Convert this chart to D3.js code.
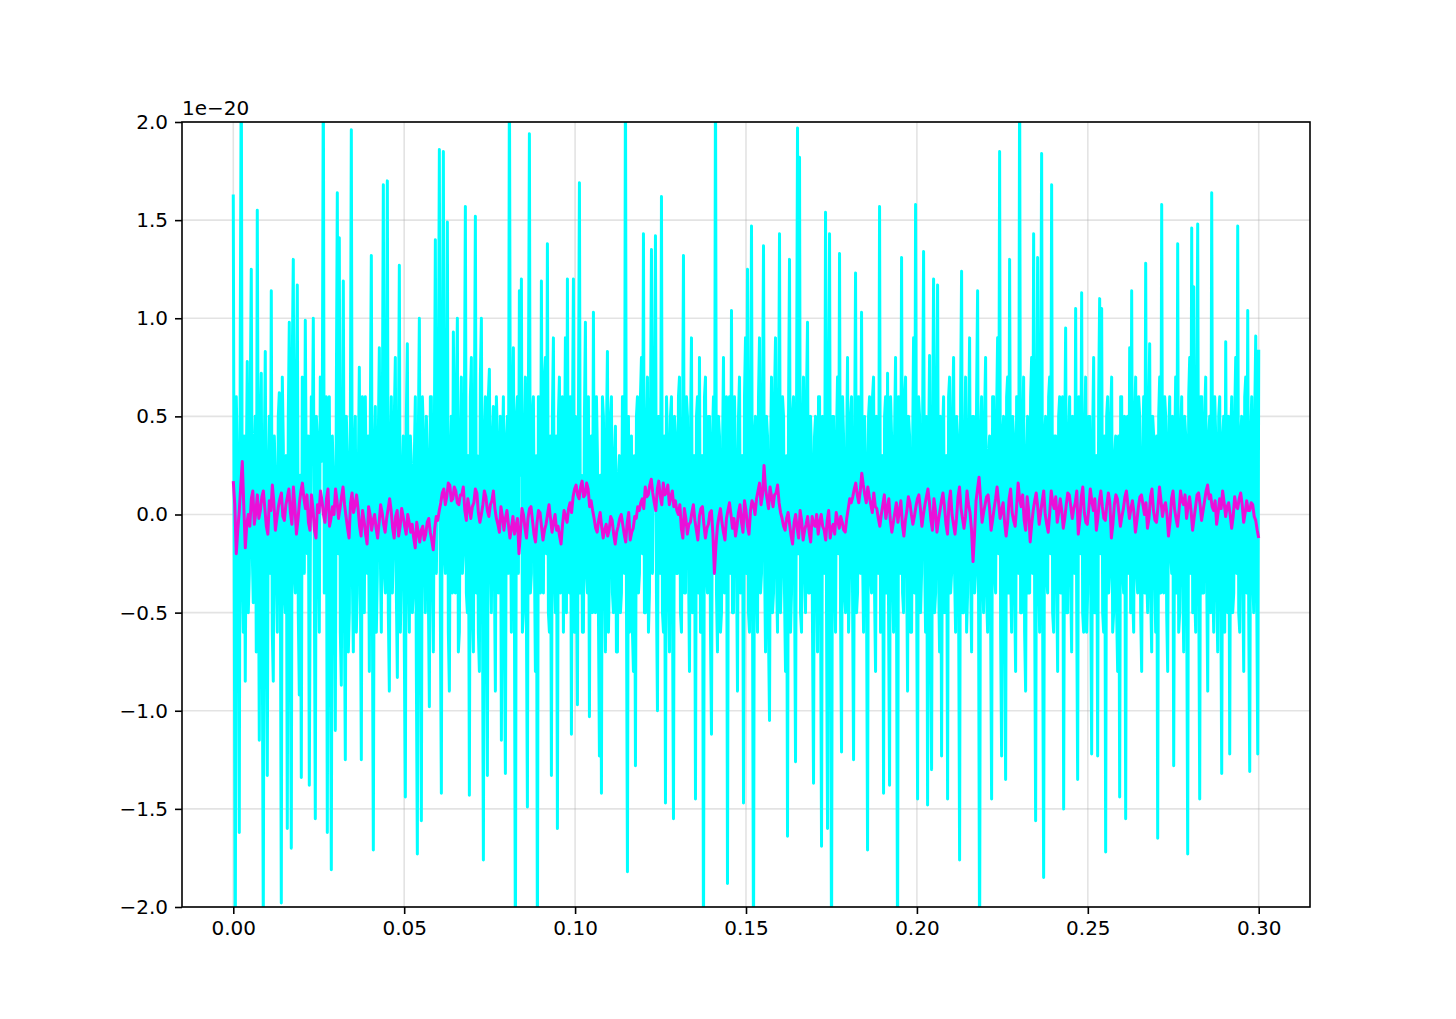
<!DOCTYPE html>
<html>
<head>
<meta charset="utf-8">
<script src="https://cdn.jsdelivr.net/npm/d3@7"></script>
<style>
  html, body { margin: 0; padding: 0; background: #ffffff; }
  svg { display: block; }
</style>
</head>
<body>
<script>
// ---- data (values in units of 1e-20) ----
const tStart = 0.0;
const tEnd = 0.30;
const xTicks = [0.00, 0.05, 0.10, 0.15, 0.20, 0.25, 0.30];
const yTicks = [-2.0, -1.5, -1.0, -0.5, 0.0, 0.5, 1.0, 1.5, 2.0];
const offsetLabel = "1e\u221220";

const cyanValues = [
 1.63,-0.4,-2.3,0.6,0.3,-0.2,-1.62,0.9,2.4,-0.3,-0.6,0.4,-0.85,0.2,0.78,-0.5,-0.3,0.6,1.25,-0.2,-0.45,0.3,0.5,-0.7,1.55,0.1,-1.15,0.4,0.72,-0.6,-2.1,0.3,0.83,-0.4,-1.33,0.2,0.5,-0.3,1.14,-0.6,
 -0.85,0.4,0.2,-0.3,-0.6,0.5,0.62,-0.2,-1.98,0.7,0.35,-0.4,-0.5,0.3,-1.6,0.5,0.98,-0.6,-1.7,0.8,1.30,-0.3,-0.4,0.6,1.17,-0.5,-0.92,0.2,-1.34,0.7,0.5,-0.3,0.99,0.1,-0.2,0.4,-1.38,-0.2,0.6,0.3,
 1.0,-0.3,-1.55,0.5,0.4,-0.2,-0.6,0.7,0.27,0.5,2.3,-0.4,-0.3,0.6,-1.62,0.3,0.6,-0.5,-1.81,0.4,0.2,-0.3,-1.10,0.6,1.64,-0.2,1.41,-0.6,-0.87,0.3,1.19,-0.4,-1.25,0.5,0.3,-0.7,-0.5,0.4,1.96,-0.3,
 -0.7,0.3,0.5,-0.6,-0.4,0.2,0.75,-0.3,-1.25,0.6,0.2,-0.5,0.6,0.1,-0.3,0.4,-0.8,0.5,1.32,-0.4,-1.71,0.3,0.55,-0.6,-0.3,0.4,0.85,-0.2,-0.6,0.5,1.68,-0.3,-0.4,0.6,1.70,-0.5,-0.9,0.3,0.6,-0.4,
 -0.2,0.5,0.8,-0.4,-0.83,0.3,1.27,-0.6,-0.3,0.2,0.4,-0.7,-1.44,0.5,0.87,-0.3,-0.6,0.4,0.25,-0.5,-0.4,0.3,0.6,-0.8,-1.73,0.4,1.0,-0.5,-1.56,0.6,0.42,-0.2,-0.5,0.5,0.3,-0.4,-0.98,0.6,0.6,-0.3,
 -0.7,0.4,1.40,-0.3,0.2,0.6,1.86,-0.5,-1.42,0.7,1.85,-0.2,-0.3,0.5,1.49,-0.6,-0.90,0.3,0.5,-0.4,0.93,0.2,-0.4,0.6,1.0,-0.7,-0.6,0.4,0.7,-0.3,-0.2,0.5,1.57,-0.4,-0.5,0.3,-1.43,0.6,0.8,-0.5,
 -0.7,0.5,1.52,-0.4,0.3,-0.6,-0.8,0.7,1.0,-0.3,-1.76,0.4,0.6,-0.5,-1.33,0.6,0.74,-0.2,-0.5,0.4,0.55,-0.3,-0.9,0.6,0.4,-0.4,-0.3,0.5,-1.15,0.3,0.6,-0.6,-1.32,0.4,0.5,-0.3,2.3,0.2,-0.6,0.5,
 0.85,-0.4,-2.3,0.5,0.6,-0.3,1.14,0.2,1.20,-0.6,-0.5,0.4,0.7,-0.5,-1.49,0.6,1.94,-0.4,-0.3,0.5,0.6,-0.2,-0.8,0.3,-2.3,0.6,0.5,-0.4,1.19,-0.3,-0.4,0.7,0.8,-0.2,1.38,-0.5,-0.6,0.4,-1.33,0.5,
 0.9,-0.3,-0.5,0.4,-1.60,0.5,0.7,-0.4,0.3,0.6,-0.6,0.2,0.9,-0.5,1.20,-0.3,-0.4,0.6,-1.12,0.4,1.20,-0.6,0.5,-0.2,-0.97,0.5,1.69,-0.4,0.2,-0.6,-0.6,0.5,0.98,-0.3,-0.4,0.6,-1.03,0.3,0.4,-0.5,
 1.03,-0.4,-0.5,0.6,0.3,-0.5,-1.23,0.2,-1.42,0.6,0.5,-0.3,-0.7,0.4,0.83,-0.6,-0.3,0.5,0.6,-0.4,-0.5,0.3,0.45,-0.7,-0.7,0.2,0.3,-0.5,-0.4,0.6,0.6,-0.3,2.3,-0.4,-1.82,0.5,-0.6,0.3,0.4,-0.6,
 -0.8,0.3,-1.28,0.5,0.6,-0.4,-0.3,0.6,0.8,-0.2,1.43,-0.5,-0.5,0.4,0.7,-0.6,-0.4,0.5,1.35,-0.3,0.3,0.6,1.42,-0.4,-1.0,0.5,0.5,-0.3,1.62,-0.5,-0.6,0.4,-1.47,0.6,0.4,-0.3,-0.7,0.5,0.6,-0.4,
 -1.55,0.5,0.4,-0.3,-0.3,0.6,0.7,-0.5,-0.6,0.3,1.32,-0.4,-0.4,0.6,0.5,-0.2,-0.8,0.4,0.9,-0.5,-0.3,0.3,-1.45,0.5,0.6,-0.4,0.80,-0.6,-0.5,0.3,-2.3,0.6,0.7,-0.3,-0.4,0.5,0.5,-0.6,-1.12,0.4,
 0.6,-0.3,2.3,-0.4,-0.7,0.5,0.4,-0.6,-0.5,0.3,0.8,-0.4,-0.3,0.6,-1.88,0.4,0.6,-0.3,1.04,-0.5,-0.5,0.6,0.3,-0.2,-0.9,0.5,0.7,-0.4,-0.3,0.3,-1.47,0.6,0.9,-0.3,1.25,-0.5,-0.6,0.4,1.47,-0.4,
 -2.3,0.4,0.5,-0.3,-0.6,0.6,0.9,-0.4,-0.3,0.5,1.37,-0.2,-0.7,0.5,0.4,-0.6,-1.05,0.3,0.7,-0.5,-0.4,0.6,0.9,-0.3,-0.6,0.4,1.43,-0.5,-0.3,0.6,0.5,-0.4,-0.8,0.3,-1.64,0.5,1.30,-0.6,-0.4,0.5,
 0.6,-0.3,-1.26,0.5,1.97,-0.2,1.82,-0.5,-0.6,0.4,0.7,-0.3,-0.5,0.6,0.98,-0.4,-0.4,0.5,0.3,-0.6,-1.37,0.4,0.5,-0.3,-0.7,0.6,0.6,-0.4,-1.69,0.5,0.4,-0.3,1.54,-0.5,-1.60,0.6,1.43,-0.4,-2.3,0.5,
 0.5,-0.3,-0.6,0.4,0.7,-0.2,1.33,-0.5,-1.21,0.6,0.4,-0.4,-0.5,0.3,0.8,-0.6,-0.3,0.5,0.6,-0.4,-1.25,0.3,1.23,-0.5,-0.4,0.6,0.5,-0.3,1.03,-0.2,-0.6,0.5,0.3,-0.4,-1.71,0.5,0.6,-0.3,-0.4,0.6,
 0.7,-0.4,-0.8,0.5,0.4,-0.3,1.57,-0.6,-0.5,0.3,-1.42,0.5,0.6,-0.4,0.72,-0.5,-1.38,0.6,0.4,-0.3,-0.6,0.4,0.8,-0.5,-2.3,0.6,0.5,-0.3,1.31,-0.4,-0.5,0.6,0.7,-0.2,-0.9,0.5,0.4,-0.6,-0.6,0.3,
 0.9,-0.4,1.58,-0.3,-1.45,0.6,0.5,-0.5,-0.3,0.4,1.34,-0.2,-0.6,0.5,-1.48,0.3,0.81,-0.6,-1.30,0.4,1.20,-0.5,-0.4,0.6,1.17,-0.3,-0.7,0.5,-1.23,0.4,0.6,-0.5,-0.4,0.3,-1.45,0.6,0.7,-0.4,-0.3,0.5,
 0.8,-0.3,-0.6,0.5,0.4,-0.4,-1.76,0.6,1.24,-0.5,-0.5,0.3,0.7,-0.6,-0.4,0.4,0.9,-0.3,-0.7,0.5,0.5,-0.4,-0.3,0.6,1.14,-0.5,-2.3,0.4,0.6,-0.3,-0.5,0.5,0.8,-0.4,-0.6,0.3,0.4,-0.5,-1.45,0.6,
 0.6,-0.3,-0.4,0.5,0.9,-0.2,1.85,-0.6,-1.23,0.4,0.5,-0.5,-1.35,0.6,0.7,-0.4,1.30,-0.3,-0.6,0.5,0.4,-0.4,-0.8,0.6,0.6,-0.3,2.3,-0.5,-0.5,0.4,0.7,-0.6,-0.9,0.3,0.5,-0.4,-0.4,0.6,0.8,-0.3,
 1.43,-0.4,-1.56,0.5,1.31,-0.3,-0.6,0.6,1.84,-0.5,-1.85,0.4,0.5,-0.3,-0.4,0.6,0.7,-0.2,1.68,-0.5,-0.6,0.4,0.4,-0.3,-0.8,0.5,0.6,-0.4,-0.3,0.6,-1.50,0.3,0.95,-0.5,-0.5,0.4,0.6,-0.3,-0.7,0.5,
 0.4,-0.3,1.05,-0.4,-1.35,0.6,0.5,-0.2,1.13,-0.5,-0.6,0.4,0.7,-0.6,-0.4,0.5,0.5,-0.3,-1.22,0.4,0.8,-0.5,-0.5,0.3,-1.23,0.6,1.10,-0.2,1.05,-0.5,-0.6,0.4,-1.72,0.5,0.6,-0.4,-0.3,0.5,0.7,-0.6,
 -0.5,0.3,0.4,-0.5,-0.8,0.4,-1.44,0.6,0.6,-0.3,-0.4,0.5,-1.55,0.4,0.5,-0.3,0.85,-0.5,1.14,-0.4,-0.6,0.5,0.7,-0.3,-0.4,0.6,0.5,-0.5,-0.8,0.3,0.6,-0.4,1.28,-0.3,-0.5,0.5,0.87,-0.4,-0.7,0.5,
 0.4,-0.3,-0.6,0.4,-1.65,0.5,0.7,-0.4,1.58,-0.3,-0.4,0.6,0.5,-0.5,-0.8,0.4,0.6,-0.2,-0.3,0.5,-1.28,0.3,0.7,-0.4,1.38,-0.6,-0.5,0.4,0.6,-0.3,-0.7,0.5,0.4,-0.4,-1.73,0.6,0.8,-0.3,1.46,-0.5,
 1.16,-0.4,-0.6,0.5,1.48,-0.3,-1.45,0.6,0.6,-0.4,-0.4,0.5,0.7,-0.3,-0.9,0.4,0.5,-0.5,1.64,-0.3,-0.6,0.6,0.4,-0.4,-0.7,0.5,0.6,-0.3,-1.32,0.4,0.5,-0.6,0.88,-0.3,-0.5,0.5,-1.22,0.4,0.6,-0.5,
 -0.4,0.5,0.8,-0.3,1.47,-0.5,-0.6,0.4,0.5,-0.3,-0.8,0.6,0.7,-0.4,1.04,-0.5,-1.31,0.4,0.6,-0.3,-0.5,0.5,0.91,-0.4,-1.22,0.84
];

const magentaValues = [
 0.17,0.05,-0.20,-0.08,0.02,0.15,0.27,0.04,-0.17,-0.05,
 0.00,-0.06,0.08,0.12,-0.05,0.01,0.10,-0.02,0.02,0.09,0.12,0.03,-0.06,-0.10,0.07,0.02,0.15,0.06,-0.08,-0.02,0.04,0.08,0.11,-0.01,-0.03,0.05,0.09,0.13,0.01,-0.05,0.14,0.04,-0.10,-0.03,0.06,0.12,0.16,0.08,0.03,0.10,-0.04,-0.08,0.10,0.03,-0.08,-0.12,0.05,0.01,0.12,0.07,0.00,-0.04,0.08,0.13,-0.06,-0.02,0.04,0.00,0.13,0.07,-0.02,0.03,0.09,0.14,0.05,-0.01,-0.07,-0.12,0.06,0.11,0.01,0.05,0.10,0.03,
 -0.06,-0.11,0.02,-0.03,-0.10,-0.15,0.04,0.00,-0.08,-0.03,0.00,-0.07,-0.12,-0.04,0.05,0.01,-0.05,-0.09,-0.02,0.03,0.08,0.02,-0.07,-0.12,-0.01,0.02,-0.11,-0.06,0.03,-0.01,-0.06,-0.10,0.00,-0.04,-0.09,-0.05,
 -0.12,-0.17,-0.04,-0.09,-0.14,-0.08,-0.06,-0.13,-0.10,-0.04,-0.02,-0.09,-0.13,-0.18,-0.07,-0.01,-0.03,0.02,
 0.06,0.11,0.13,0.05,0.09,0.16,0.15,0.07,0.08,0.14,0.12,0.06,0.05,0.10,
 0.10,0.14,0.02,-0.03,0.08,0.03,-0.02,0.04,0.06,0.13,0.11,0.01,-0.04,0.00,0.05,0.12,0.09,0.02,-0.01,0.05,0.07,0.12,0.03,-0.02,-0.05,-0.09,0.04,-0.01,
 -0.08,-0.02,0.02,-0.05,-0.12,-0.07,-0.01,-0.10,-0.06,-0.02,-0.20,-0.09,0.03,0.00,-0.07,-0.12,-0.02,0.03,0.04,-0.03,-0.10,-0.14,-0.04,0.02,0.01,-0.06,-0.13,-0.08,-0.05,0.00,0.05,-0.02,-0.09,-0.04,0.00,-0.08,-0.06,-0.11,-0.15,-0.05,0.02,-0.01,-0.04,0.03,0.06,0.01,0.09,0.13,
 0.15,0.10,0.08,0.14,0.17,0.09,0.10,0.16,0.13,0.04,0.07,0.02,
 -0.02,-0.07,-0.09,-0.03,0.01,-0.06,-0.12,-0.08,-0.05,-0.11,-0.08,-0.01,-0.03,-0.10,-0.15,-0.09,-0.06,-0.02,0.00,-0.05,-0.10,-0.14,-0.04,0.01,-0.13,-0.09,-0.07,-0.01,-0.02,0.04,0.02,0.06,
 0.08,0.03,0.14,0.09,0.10,0.15,0.18,0.11,0.06,0.02,0.13,0.17,0.09,0.05,0.16,0.10,0.11,0.15,0.05,0.09,0.12,0.04,0.07,0.02,
 0.00,0.05,-0.07,-0.12,0.03,-0.02,-0.10,-0.05,-0.04,0.01,0.05,-0.03,-0.08,-0.13,-0.01,0.03,0.04,-0.05,-0.12,-0.07,-0.05,0.01,0.02,-0.10,-0.30,-0.16,-0.06,-0.01,0.03,-0.04,-0.09,-0.13,-0.02,0.02,0.06,0.00,-0.07,-0.02,-0.11,-0.06,0.01,0.05,-0.04,-0.09,0.07,0.02,-0.06,-0.10,0.02,0.07,0.05,0.00,0.08,
 0.12,0.16,0.05,0.10,0.25,0.13,0.08,0.03,0.14,0.09,0.04,0.10,0.11,0.15,0.06,0.01,
 -0.02,-0.06,-0.08,-0.02,0.01,-0.05,-0.11,-0.15,-0.04,0.00,-0.07,-0.12,0.02,-0.03,-0.13,-0.08,-0.05,-0.01,-0.09,-0.14,-0.01,-0.05,-0.06,0.00,-0.10,-0.04,0.00,-0.06,-0.08,-0.13,-0.03,0.02,-0.12,-0.07,-0.05,-0.10,0.01,-0.03,-0.07,-0.01,-0.04,-0.08,-0.09,-0.02,0.03,0.08,0.06,
 0.09,0.13,0.16,0.10,0.06,0.12,0.21,0.15,0.10,0.06,0.14,0.09,0.05,0.01,0.11,0.04,
 0.03,-0.02,-0.06,0.00,0.05,0.10,-0.02,0.03,0.08,-0.03,-0.09,-0.04,0.01,0.06,-0.04,0.02,0.07,-0.05,-0.11,-0.03,0.02,0.09,0.06,0.00,-0.05,-0.01,0.04,0.08,
 0.10,0.03,-0.06,0.00,0.05,0.09,0.13,0.06,-0.03,-0.08,0.08,0.02,-0.09,-0.03,0.02,0.07,0.11,0.04,-0.05,-0.10,
 0.06,0.12,0.00,-0.05,-0.10,-0.02,0.09,0.14,0.03,-0.02,-0.07,-0.01,0.12,0.05,0.01,-0.08,-0.24,-0.10,0.07,0.13,
 0.19,0.08,-0.04,0.01,0.05,0.09,0.10,0.03,-0.08,-0.03,0.03,0.08,0.14,0.06,-0.02,0.02,0.06,-0.04,-0.11,-0.04,
 0.08,0.13,0.01,-0.03,-0.06,0.04,0.16,0.08,0.04,0.10,-0.03,-0.08,0.09,0.02,-0.14,-0.05,0.02,0.07,0.11,0.04,
 -0.05,0.01,0.07,0.12,0.00,-0.05,-0.09,0.01,0.12,0.06,0.03,0.09,-0.04,0.01,0.08,0.02,-0.07,-0.02,0.05,0.11,
 0.10,0.04,-0.02,0.03,0.06,0.12,-0.10,-0.03,0.09,0.14,0.01,-0.04,-0.05,0.03,0.13,0.07,0.02,0.08,-0.08,-0.02,
 0.07,0.12,0.04,-0.02,-0.03,0.05,0.11,0.06,-0.12,-0.05,0.05,0.10,0.08,0.01,-0.06,-0.01,0.03,0.09,0.12,0.05,
 -0.02,0.03,0.07,0.01,-0.09,-0.03,0.04,0.09,0.10,0.05,0.00,0.06,-0.07,-0.02,0.09,0.13,0.02,-0.03,-0.04,0.04,
 0.14,0.07,-0.01,0.04,0.06,0.00,-0.11,-0.04,0.08,0.12,0.03,-0.02,-0.06,0.02,0.12,0.07,0.05,0.10,-0.02,0.04,
 0.09,0.02,-0.08,-0.02,0.04,0.10,0.11,0.05,-0.03,0.02,0.07,0.12,0.15,0.08,0.10,0.04,0.02,0.07,-0.05,0.01,
 0.08,0.03,0.12,0.06,-0.01,0.04,0.06,0.00,-0.07,-0.01,0.09,0.04,0.03,0.08,0.11,0.05,-0.04,0.01,0.07,0.02,
 0.02,0.06,0.05,-0.01,-0.03,-0.08,-0.12
];

// ---- layout ----
const W = 1456, H = 1019;
const margin = { left: 182, right: 1456 - 1310, top: 122, bottom: 1019 - 907 };
const pw = W - margin.left - margin.right;
const ph = H - margin.top - margin.bottom;
const FONT = "'DejaVu Sans', sans-serif";
const FS = 20;

const svg = d3.select("body").append("svg")
  .attr("width", W).attr("height", H)
  .style("background", "#ffffff");

const pad = (tEnd - tStart) * 0.05;
const x = d3.scaleLinear().domain([tStart - pad, tEnd + pad]).range([0, pw]);
const y = d3.scaleLinear().domain([-2, 2]).range([ph, 0]);

const g = svg.append("g").attr("transform", `translate(${margin.left},${margin.top})`);

svg.append("defs").append("clipPath").attr("id", "clip")
  .append("rect").attr("x", 0).attr("y", 0).attr("width", pw).attr("height", ph);

// grid
const grid = g.append("g");
grid.selectAll("line.gx").data(xTicks).join("line")
  .attr("x1", d => x(d)).attr("x2", d => x(d)).attr("y1", 0).attr("y2", ph)
  .attr("stroke", "#b0b0b0").attr("stroke-opacity", 0.35).attr("stroke-width", 1.6);
grid.selectAll("line.gy").data(yTicks).join("line")
  .attr("y1", d => y(d)).attr("y2", d => y(d)).attr("x1", 0).attr("x2", pw)
  .attr("stroke", "#b0b0b0").attr("stroke-opacity", 0.35).attr("stroke-width", 1.6);

// lines (uniform sample times between tStart and tEnd)
function series(vals) {
  const n = vals.length;
  const tx = d3.scaleLinear().domain([0, n - 1]).range([tStart, tEnd]);
  return vals.map((v, i) => [tx(i), v]);
}
const line = d3.line().x(d => x(d[0])).y(d => y(d[1]));
const plot = g.append("g").attr("clip-path", "url(#clip)");
plot.append("path").datum(series(cyanValues))
  .attr("d", line).attr("fill", "none").attr("stroke", "#00ffff")
  .attr("stroke-width", 3).attr("stroke-linejoin", "round");
plot.append("path").datum(series(magentaValues))
  .attr("d", line).attr("fill", "none").attr("stroke", "#ea10d8")
  .attr("stroke-width", 3).attr("stroke-linejoin", "round");

// axes
const fmtX = d => d3.format(".2f")(d);
const fmtY = d => d3.format(".1f")(d).replace("-", "\u2212");
const xAxis = g.append("g").attr("transform", `translate(0,${ph})`)
  .call(d3.axisBottom(x).tickValues(xTicks).tickFormat(fmtX).tickSize(7).tickPadding(7));
const yAxis = g.append("g")
  .call(d3.axisLeft(y).tickValues(yTicks).tickFormat(fmtY).tickSize(7).tickPadding(7));
[xAxis, yAxis].forEach(a => {
  a.select(".domain").remove();
  a.selectAll(".tick line").attr("stroke", "#000").attr("stroke-width", 1.6);
  a.selectAll(".tick text").attr("fill", "#000").style("font-family", FONT).style("font-size", FS + "px");
});

// frame
g.append("rect").attr("x", 0).attr("y", 0).attr("width", pw).attr("height", ph)
  .attr("fill", "none").attr("stroke", "#000").attr("stroke-width", 1.6);

// offset text
g.append("text").attr("x", 0).attr("y", -7)
  .style("font-family", FONT).style("font-size", FS + "px").attr("fill", "#000")
  .text(offsetLabel);
</script>
</body>
</html>
